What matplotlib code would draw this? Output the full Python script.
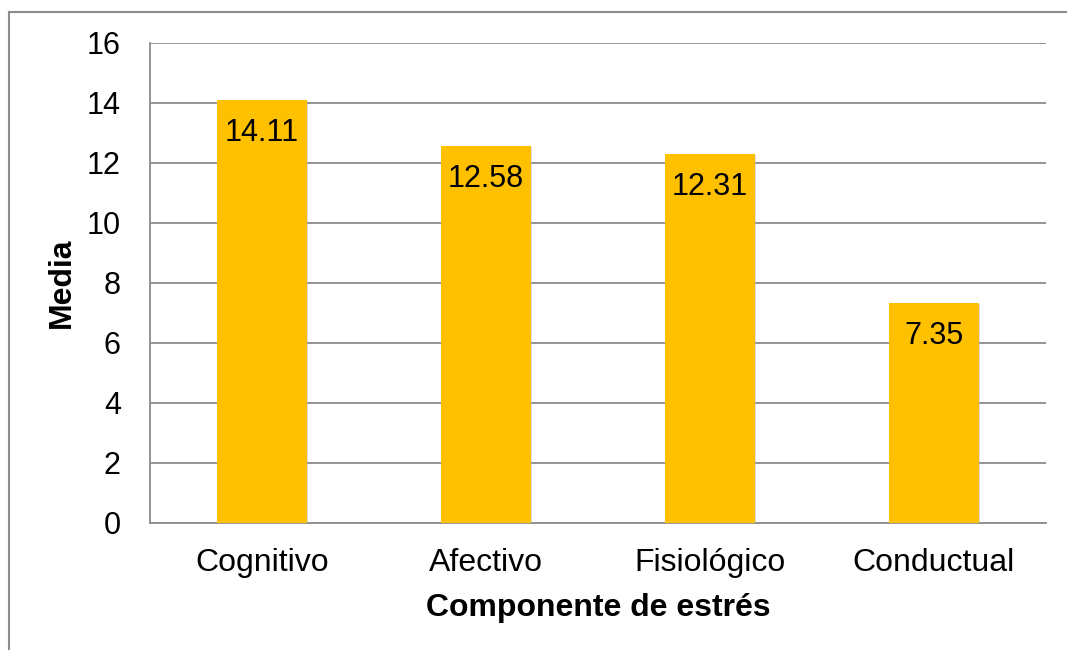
import matplotlib
matplotlib.use("Agg")
import matplotlib.pyplot as plt
from matplotlib.lines import Line2D
import matplotlib.patheffects as pe

categories = ["Cognitivo", "Afectivo", "Fisiológico", "Conductual"]
values = [14.11, 12.58, 12.31, 7.35]
value_labels = ["14.11", "12.58", "12.31", "7.35"]
yticks = [0, 2, 4, 6, 8, 10, 12, 14, 16]

plt.rcParams['font.family'] = ['Liberation Sans', 'DejaVu Sans']

W, H = 1067, 650
fig = plt.figure(figsize=(W / 100, H / 100), dpi=100)
fig.patch.set_facecolor("white")

# outer border (left and top edges visible)
fig.add_artist(Line2D([8.5 / W, 8.5 / W], [0, 1 - 12 / H], transform=fig.transFigure,
                      color="#8c8c8c", lw=1.5))
fig.add_artist(Line2D([8.5 / W, 1], [1 - 12 / H, 1 - 12 / H], transform=fig.transFigure,
                      color="#8c8c8c", lw=1.5))

ax = fig.add_axes([150 / W, (H - 523) / H, 896 / W, 480 / H])
x = list(range(len(categories)))
bars = ax.bar(x, values, width=0.4, color="#FFC000", zorder=3)
for b in bars:
    b.set_path_effects([pe.SimplePatchShadow(offset=(1.2, -1.2), shadow_rgbFace="#999999", alpha=0.35),
                        pe.Normal()])

ax.set_xlim(-0.5, len(categories) - 0.5)
ax.set_ylim(0, 16)
ax.set_yticks(yticks)
ax.set_yticklabels([str(t) for t in yticks])
ax.set_xticks(x)
ax.set_xticklabels(categories)
ax.tick_params(axis="y", length=0, pad=21, labelsize=22)
ax.tick_params(axis="x", length=0, pad=18, labelsize=23)

ax.yaxis.grid(True, color="#8c8c8c", lw=1.3, zorder=0)
ax.set_axisbelow(True)
for s in ["top", "right"]:
    ax.spines[s].set_visible(False)
for s in ["left", "bottom"]:
    ax.spines[s].set_color("#8c8c8c")
    ax.spines[s].set_linewidth(1.3)

for xi, v, lab in zip(x, values, value_labels):
    ax.annotate(lab, (xi, v), xytext=(0, -13), textcoords="offset points",
                ha="center", va="top", fontsize=22, color="black", zorder=4)

ax.set_xlabel("Componente de estrés", fontsize=23, fontweight="bold", labelpad=11)
ax.set_ylabel("Media", fontsize=23, fontweight="bold", labelpad=7)

fig.savefig("out.png", dpi=100)
